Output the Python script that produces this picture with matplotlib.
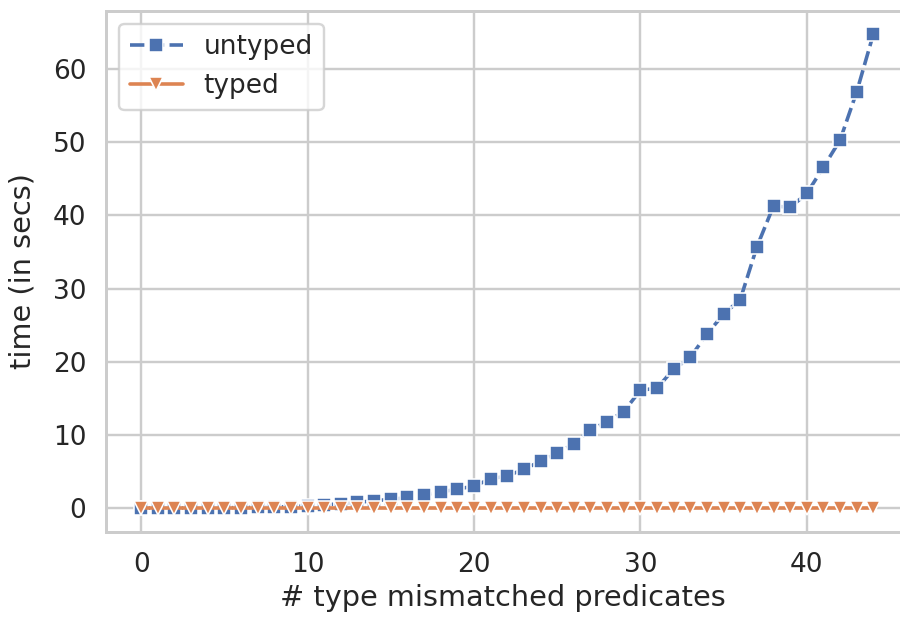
import matplotlib
matplotlib.use("Agg")
import matplotlib.pyplot as plt
import seaborn as sns
import numpy as np

# number of type mismatched predicates
n_preds = list(range(45))

untyped = [0.0, 0.0, 0.01, 0.02, 0.03, 0.05, 0.07, 0.1, 0.14, 0.2,
           0.3, 0.45, 0.6, 0.78, 1.0, 1.2, 1.45, 1.8, 2.2, 2.6,
           3.0, 4.0, 4.4, 5.3, 6.4, 7.5, 8.8, 10.7, 11.8, 13.2,
           16.1, 16.4, 19.0, 20.6, 23.8, 26.5, 28.5, 35.7, 41.3, 41.1,
           43.0, 46.6, 50.3, 56.9, 64.8]
typed = [0.05] * 45

sns.set_theme(style="whitegrid", context="talk")
pal = sns.color_palette()

DPI = 115
fig = plt.figure(figsize=(900 / DPI, 622 / DPI), dpi=DPI)
ax = fig.add_axes([0.118, 0.145, 0.882, 0.838])

ax.plot(n_preds, untyped, color=pal[0], marker="s", dashes=(4, 1.5),
        markeredgecolor="white", markeredgewidth=1.0, markersize=9, label="untyped")
ax.plot(n_preds, typed, color=pal[1], marker="v",
        markeredgecolor="white", markeredgewidth=1.0, markersize=9, label="typed")

ax.set_xlim(-2.1, 45.6)
ax.set_ylim(-3.24, 68.0)
ax.set_xticks([0, 10, 20, 30, 40])
ax.set_yticks([0, 10, 20, 30, 40, 50, 60])
ax.spines["right"].set_visible(False)
ax.set_xlabel("# type mismatched predicates")
ax.set_ylabel("time (in secs)", labelpad=10)
ax.legend(loc="upper left")

fig.savefig("out.png", dpi=DPI)
